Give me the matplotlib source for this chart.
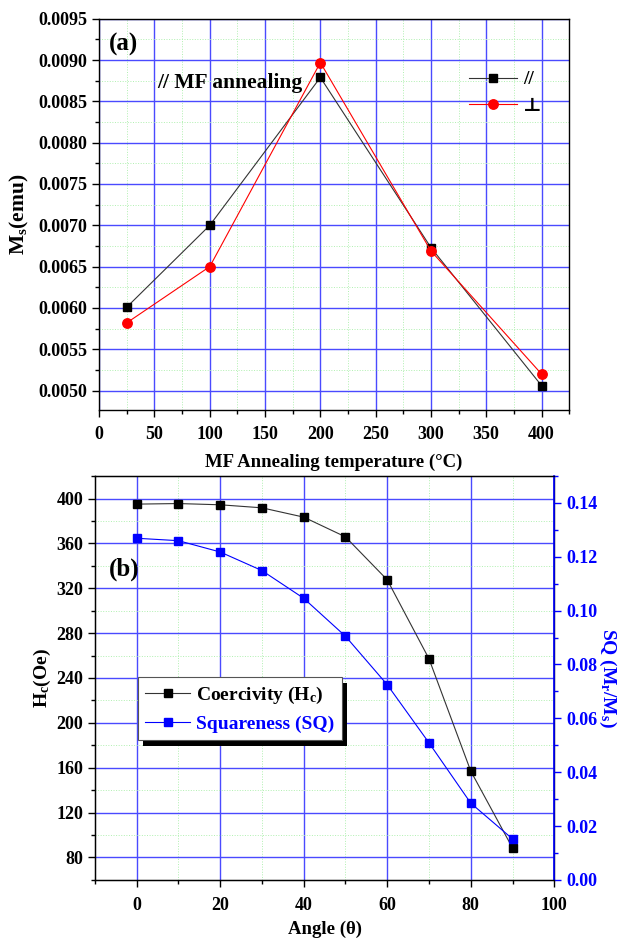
import matplotlib
matplotlib.use("Agg")
import matplotlib.pyplot as plt
from matplotlib.ticker import MultipleLocator, FormatStrFormatter
from matplotlib.lines import Line2D
from matplotlib.patches import Rectangle

plt.rcParams['font.family'] = ['Liberation Serif', 'DejaVu Serif']
plt.rcParams['font.weight'] = 'bold'
plt.rcParams['mathtext.fontset'] = 'custom'
plt.rcParams['mathtext.rm'] = 'Liberation Serif:bold'
plt.rcParams['mathtext.bf'] = 'Liberation Serif:bold'
plt.rcParams['mathtext.it'] = 'Liberation Serif:bold'

# ---- data (a) ----
temp = [25, 100, 200, 300, 400]
ms_par = [0.00601, 0.00700, 0.00879, 0.00673, 0.00506]
ms_perp = [0.00582, 0.00650, 0.00897, 0.00669, 0.00520]

# ---- data (b) ----
angle = [0, 10, 20, 30, 40, 50, 60, 70, 80, 90]
hc = [395, 395.5, 394.4, 391.7, 383.4, 365.8, 327.5, 257.1, 157, 88.4]
sq = [0.1269, 0.1260, 0.1218, 0.1149, 0.1046, 0.0905, 0.0725, 0.0509, 0.0285, 0.0152]

MAJ = '#4a4aff'
MIN = '#b0f0b0'
FS = 13

fig = plt.figure(figsize=(6.2, 9.39), dpi=100)

# ================= panel (a) =================
ax1 = fig.add_axes([0.160, 0.563, 0.758, 0.417])
ax1.set_xlim(0, 425)
ax1.set_ylim(0.00476, 0.0095)
ax1.xaxis.set_major_locator(MultipleLocator(50))
ax1.xaxis.set_minor_locator(MultipleLocator(25))
ax1.yaxis.set_major_locator(MultipleLocator(0.0005))
ax1.yaxis.set_minor_locator(MultipleLocator(0.00025))
ax1.yaxis.set_major_formatter(FormatStrFormatter('%.4f'))
ax1.grid(which='major', color=MAJ, lw=1.0, ls='-')
ax1.grid(which='minor', color=MIN, lw=0.7, ls=':')
ax1.set_axisbelow(True)
ax1.tick_params(which='major', direction='out', length=5, width=1, labelsize=FS, top=False, right=False)
ax1.tick_params(axis='x', which='major', pad=6)
ax1.tick_params(which='minor', direction='out', length=3, width=1, top=False, right=False)
for s in ax1.spines.values():
    s.set_linewidth(1.0)

ax1.plot(temp, ms_par, color='#333333', lw=0.8, marker='s', ms=6.3, mfc='black', mec='black', label='//', zorder=3)
ax1.plot(temp, ms_perp, color='red', lw=0.8, marker='o', ms=6.8, mfc='red', mec='red', label='\u22a5', zorder=3)

ax1.set_xlabel('MF Annealing temperature (\u00b0C)', fontsize=FS + 0.5, fontweight='bold', labelpad=8)
ax1.set_ylabel(r'$\mathrm{M_s}$(emu)', fontsize=15.5, fontweight='bold', labelpad=5)
ax1.text(0.02, 0.965, '(a)', transform=ax1.transAxes, fontsize=18, fontweight='bold', va='top', ha='left')
ax1.text(0.123, 0.835, '// MF annealing', transform=ax1.transAxes, fontsize=15.5, fontweight='bold',
         va='center', ha='left')
leg1 = ax1.legend(loc='upper left', bbox_to_anchor=(0.77, 0.887), frameon=False, fontsize=14,
                  handlelength=2.5, labelspacing=0.45, handletextpad=0.3, borderaxespad=0)

# ================= panel (b) =================
ax2 = fig.add_axes([0.153, 0.063, 0.741, 0.430])
ax2.set_xlim(-10, 100)
ax2.set_ylim(60, 420)
ax2.xaxis.set_major_locator(MultipleLocator(20))
ax2.xaxis.set_minor_locator(MultipleLocator(10))
ax2.yaxis.set_minor_locator(MultipleLocator(20))
ax2.set_yticks([80, 120, 160, 200, 240, 280, 320, 360, 400])
ax2.grid(which='major', color=MAJ, lw=1.0, ls='-')
ax2.grid(which='minor', color=MIN, lw=0.7, ls=':')
ax2.set_axisbelow(True)
ax2.tick_params(which='major', direction='out', length=5, width=1, labelsize=FS, top=False, right=False)
ax2.tick_params(axis='x', which='major', pad=7)
ax2.tick_params(which='minor', direction='out', length=3, width=1, top=False, right=False)
for s in ax2.spines.values():
    s.set_linewidth(1.0)

ax3 = ax2.twinx()
ax3.set_ylim(0, 0.15)
ax3.yaxis.set_major_locator(MultipleLocator(0.02))
ax3.yaxis.set_minor_locator(MultipleLocator(0.01))
ax3.yaxis.set_major_formatter(FormatStrFormatter('%.2f'))
ax3.tick_params(which='major', direction='out', length=5, width=1, labelsize=FS, colors='blue')
ax3.tick_params(which='minor', direction='out', length=3, width=1, colors='blue')
ax3.spines['right'].set_color('blue')
ax3.spines['right'].set_linewidth(1.2)

ax2.plot(angle, hc, color='#333333', lw=0.8, marker='s', ms=5.5, mfc='black', mec='black', zorder=3)
ax3.plot(angle, sq, color='blue', lw=0.8, marker='s', ms=5.5, mfc='blue', mec='blue', zorder=3)

ax2.set_xlabel('Angle (\u03b8)', fontsize=FS + 0.5, fontweight='bold', labelpad=5)
ax2.set_ylabel(r'$\mathrm{H_c}$(Oe)', fontsize=14, fontweight='bold', labelpad=2)
ax3.set_ylabel(r'SQ (M$_\mathrm{r}$/M$_\mathrm{s}$)', fontsize=14, fontweight='bold', color='blue',
               rotation=270, labelpad=15)
ax2.text(0.03, 0.77, '(b)', transform=ax2.transAxes, fontsize=18, fontweight='bold', va='center', ha='left')

h1 = Line2D([], [], color='#333333', lw=0.8, marker='s', ms=5.5, mfc='black', mec='black')
h2 = Line2D([], [], color='blue', lw=0.8, marker='s', ms=5.5, mfc='blue', mec='blue')
leg2 = ax3.legend([h1, h2], [r'Coercivity (H$_\mathrm{c}$)', 'Squareness (SQ)'], loc='upper left',
                  bbox_to_anchor=(0.094, 0.502), fontsize=14, frameon=True, fancybox=False,
                  edgecolor='#555555', framealpha=1, borderaxespad=0, handlelength=2.3,
                  handletextpad=0.3, labelspacing=0.5, borderpad=0.38)
leg2.get_texts()[1].set_color('blue')
leg2.get_frame().set_linewidth(0.8)
leg2.set_zorder(10)

ax3.set_zorder(ax2.get_zorder() + 1)
ax3.patch.set_visible(False)

fig.canvas.draw()
bb = leg2.get_window_extent()
inv = fig.transFigure.inverted()
(x0, y0), (x1, y1) = inv.transform([(bb.x0, bb.y0), (bb.x1, bb.y1)])
dx, dy = 5 / 620, 6 / 939
shadow = Rectangle((x0 + dx, y0 - dy), x1 - x0, y1 - y0, transform=fig.transFigure,
                   facecolor='black', edgecolor='none', zorder=9, clip_on=False)
ax3.add_artist(shadow)

fig.savefig('out.png', dpi=100)
